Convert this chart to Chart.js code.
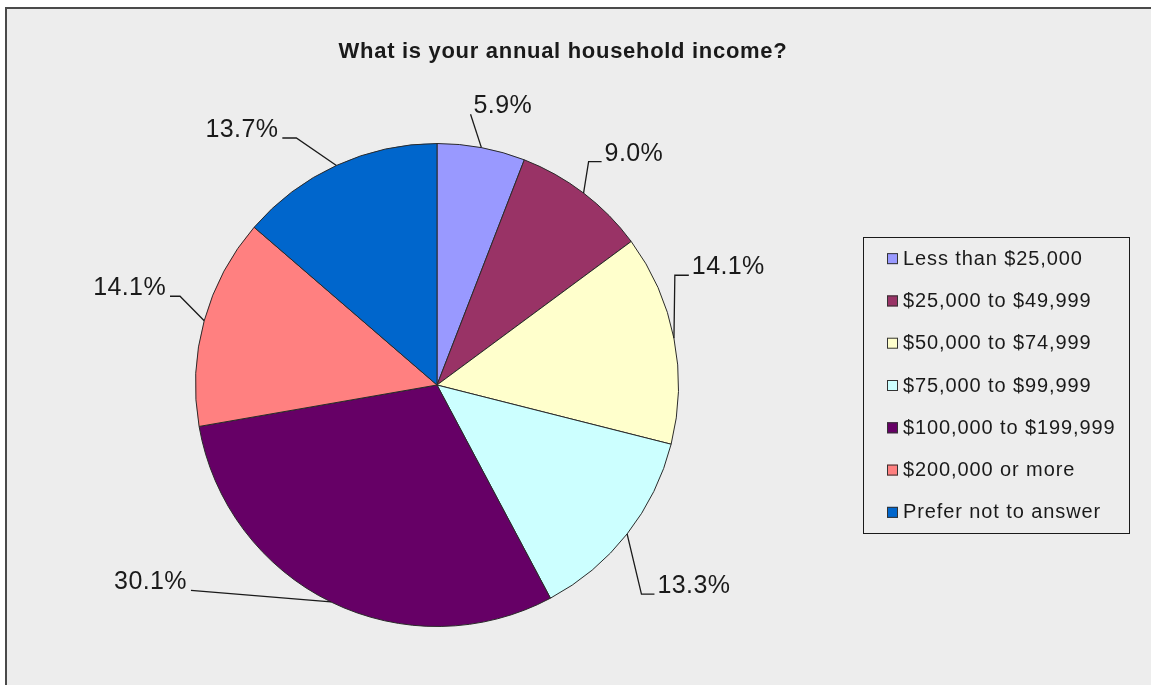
<!DOCTYPE html>
<html><head><meta charset="utf-8">
<script src="https://cdn.jsdelivr.net/npm/chart.js@4.4.1/dist/chart.umd.min.js"></script>
<style>
html,body{margin:0;padding:0;background:#ffffff;width:1151px;height:685px;overflow:hidden}
#frame{position:absolute;left:5px;top:7px;width:1170px;height:700px;border-top:2px solid #4a4a4a;border-left:2px solid #4a4a4a;background:#ededed}
#wrap{position:absolute;left:0;top:0;width:1151px;height:685px}
</style></head><body>
<div id="frame"></div>
<div id="wrap"><canvas id="c" width="1151" height="685"></canvas></div>
<script>
const titleText = 'What is your annual household income?';
const categories = ['Less than $25,000', '$25,000 to $49,999', '$50,000 to $74,999', '$75,000 to $99,999', '$100,000 to $199,999', '$200,000 or more', 'Prefer not to answer'];
const percentages = [5.9, 9.0, 14.1, 13.3, 30.1, 14.1, 13.7];
const sliceColors = ['#9999FF', '#993366', '#FFFFCC', '#CCFFFF', '#660066', '#FF8080', '#0066CC'];

// label placement (layout only): angle shift from slice middle (deg), distance as ratio of radius, leader elbow length
const labelAngleShift = [2.6, 2.8, -11.2, -0.3, 29.65, 2.35, -12.6];
const labelDistRatio = [1.194, 1.264, 1.304, 1.346, 1.436, 1.337, 1.336];
const labelElbow = [0, 13, 14, 13, 0, 10, 14];

const FONT = '"Liberation Sans", Arial, sans-serif';

const annot = {
  id: 'annot',
  afterDraw(chart) {
    const ctx = chart.ctx;
    const meta = chart.getDatasetMeta(0);
    const hasLS = 'letterSpacing' in ctx;
    meta.data.forEach((arc, i) => {
      const p = arc.getProps(['x', 'y', 'startAngle', 'endAngle', 'outerRadius'], true);
      const mid = (p.startAngle + p.endAngle) / 2;
      const r = p.outerRadius;
      const la = mid + labelAngleShift[i] * Math.PI / 180;
      const tx = p.x + Math.cos(la) * r * labelDistRatio[i];
      const ty = p.y + Math.sin(la) * r * labelDistRatio[i];
      const txt = percentages[i].toFixed(1) + '%';
      ctx.save();
      const fs = 25;
      ctx.font = fs + 'px ' + FONT;
      if (hasLS) ctx.letterSpacing = '0.4px';
      const w = ctx.measureText(txt).width;
      const capH = fs * 0.716;
      const base = ty + capH / 2;
      ctx.fillStyle = '#1a1a1a';
      ctx.textBaseline = 'alphabetic';
      ctx.textAlign = 'left';
      ctx.fillText(txt, tx - w / 2, base);
      const ex = p.x + Math.cos(mid) * r;
      const ey = p.y + Math.sin(mid) * r;
      let endX, elX;
      if (tx >= p.x) { endX = tx - w / 2 - 3; elX = endX - labelElbow[i]; }
      else { endX = tx + w / 2 + 4; elX = endX + labelElbow[i]; }
      const endY = base + 1;
      ctx.strokeStyle = '#1a1a1a';
      ctx.lineWidth = 1.3;
      ctx.beginPath();
      ctx.moveTo(ex, ey);
      ctx.lineTo(elX, endY);
      ctx.lineTo(endX, endY);
      ctx.stroke();
      ctx.restore();
    });
    // title
    ctx.save();
    ctx.font = 'bold 22px ' + FONT;
    if (hasLS) ctx.letterSpacing = '0.7px';
    ctx.fillStyle = '#1a1a1a';
    ctx.textAlign = 'center';
    ctx.textBaseline = 'alphabetic';
    ctx.fillText(titleText, 563, 58);
    ctx.restore();
    // legend
    const L = 863, T = 237, W = 266, H = 296;
    const rowH = H / categories.length;
    ctx.save();
    ctx.strokeStyle = '#1a1a1a';
    ctx.lineWidth = 1;
    ctx.strokeRect(L + 0.5, T + 0.5, W, H);
    ctx.font = '20px ' + FONT;
    if (hasLS) ctx.letterSpacing = '0.9px';
    ctx.textBaseline = 'middle';
    ctx.textAlign = 'left';
    categories.forEach((c, i) => {
      const cy = T + rowH * (i + 0.5);
      ctx.fillStyle = sliceColors[i];
      ctx.fillRect(L + 24, cy - 5, 11, 11);
      ctx.strokeStyle = '#333';
      ctx.strokeRect(L + 24.5, cy - 4.5, 10, 10);
      ctx.fillStyle = '#1a1a1a';
      ctx.fillText(c, L + 40, cy + 1);
    });
    ctx.restore();
  }
};

new Chart(document.getElementById('c'), {
  type: 'pie',
  data: {
    labels: categories,
    datasets: [{
      data: percentages,
      backgroundColor: sliceColors,
      borderColor: '#2a2a2a',
      borderWidth: 1,
      hoverOffset: 0
    }]
  },
  options: {
    responsive: false,
    animation: false,
    events: [],
    layout: { padding: { left: 195, right: 472, top: 143, bottom: 58 } },
    plugins: { legend: { display: false }, title: { display: false }, tooltip: { enabled: false } }
  },
  plugins: [annot]
});
</script>
</body></html>
